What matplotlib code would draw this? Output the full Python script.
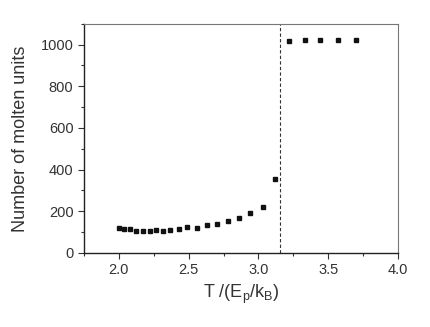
import matplotlib
matplotlib.use("Agg")
import matplotlib.pyplot as plt
from matplotlib.ticker import MultipleLocator

plt.rcParams['font.family'] = ['Liberation Sans', 'DejaVu Sans']
plt.rcParams['mathtext.fontset'] = 'custom'
plt.rcParams['mathtext.rm'] = 'Liberation Sans'

# Data
temperature = [2.00, 2.04, 2.08, 2.125, 2.17, 2.22, 2.27, 2.32, 2.37, 2.43,
               2.49, 2.56, 2.63, 2.70, 2.78, 2.86, 2.94, 3.03, 3.12,
               3.22, 3.33, 3.44, 3.57, 3.70]
molten_units = [117, 112, 112, 103, 103, 105, 111, 105, 111, 116,
                122, 120, 133, 138, 152, 166, 189, 219, 353,
                1020, 1021, 1021, 1021, 1021]
t_melt = 3.155

fig = plt.figure(figsize=(4.3, 3.27), dpi=100)
ax = fig.add_axes([0.195, 0.227, 0.731, 0.700])

ax.plot(temperature, molten_units, 's', color='#111111', markersize=3.5, zorder=3)
ax.axvline(t_melt, color='#333333', linestyle=(0, (3, 2)), linewidth=0.8)

ax.set_xlim(1.75, 4.0)
ax.set_ylim(0, 1100)
ax.xaxis.set_major_locator(MultipleLocator(0.5))
ax.xaxis.set_minor_locator(MultipleLocator(0.25))
ax.yaxis.set_major_locator(MultipleLocator(200))
ax.yaxis.set_minor_locator(MultipleLocator(100))
ax.set_xticks([2.0, 2.5, 3.0, 3.5, 4.0])

ax.tick_params(which='both', direction='out', top=False, right=False,
               colors='#333333', labelsize=10.5, width=0.8)
ax.tick_params(which='major', length=4)
ax.tick_params(which='minor', length=2.5)
for side in ['left', 'bottom']:
    ax.spines[side].set_color('#222222')
    ax.spines[side].set_linewidth(1.0)
for side in ['top', 'right']:
    ax.spines[side].set_color('#777777')
    ax.spines[side].set_linewidth(0.8)

ax.set_xlabel(r'T /(E$_\mathregular{p}$/k$_\mathregular{B}$)', fontsize=13, color='#333333', labelpad=4)
ax.set_ylabel('Number of molten units', fontsize=13, color='#333333', labelpad=8)

fig.savefig("out.png", dpi=100)
